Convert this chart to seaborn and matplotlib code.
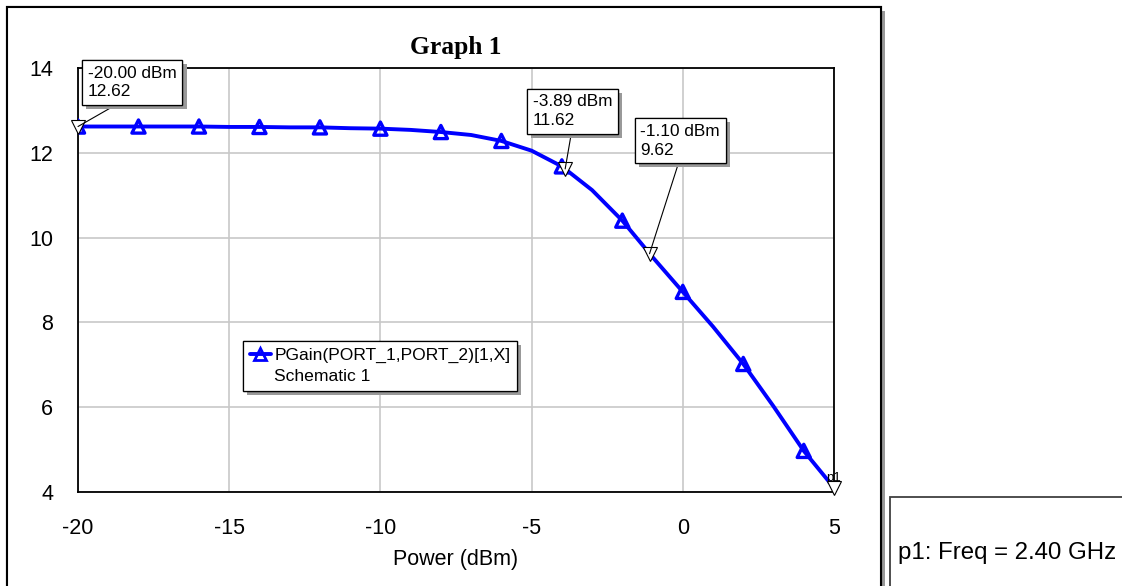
import matplotlib
matplotlib.use("Agg")
import matplotlib.pyplot as plt
import matplotlib.patheffects as pe
from matplotlib.patches import Rectangle
from matplotlib.lines import Line2D
import pandas as pd
import seaborn as sns

# sweep data (1 dBm steps), triangles drawn every 2 dBm
power_dbm = [-20, -19, -18, -17, -16, -15, -14, -13, -12, -11, -10, -9, -8,
             -7, -6, -5, -4, -3, -2, -1, 0, 1, 2, 3, 4, 5]
gain_db = [12.62, 12.62, 12.62, 12.62, 12.62, 12.61, 12.61, 12.60, 12.60, 12.58,
           12.57, 12.54, 12.49, 12.42, 12.28, 12.05, 11.68, 11.12, 10.40, 9.54,
           8.72, 7.90, 7.02, 6.02, 4.97, 4.10]

# readout markers
marker_power = [-20.00, -3.89, -1.10]
marker_gain = [12.62, 11.62, 9.62]
marker_labels = ["-20.00 dBm\n12.62", "-3.89 dBm\n11.62", "-1.10 dBm\n9.62"]
p1_power = 5
p1_gain = 4.10

x_ticks = [-20, -15, -10, -5, 0, 5]
y_ticks = [4, 6, 8, 10, 12, 14]

series_label = "PGain(PORT_1,PORT_2)[1,X]"
source_label = "Schematic 1"

df = pd.DataFrame({"power": power_dbm, "gain": gain_db})
df_tri = df[df["power"] % 2 == 0]
df_tri = df_tri[df_tri["power"] <= 4]

sns.set_theme(style="whitegrid")
plt.rcParams["font.family"] = ["Liberation Sans", "DejaVu Sans"]
plt.rcParams["text.color"] = "black"

W, H = 1122, 586
fig = plt.figure(figsize=(W / 100, H / 100), dpi=100)

shadow = [pe.withSimplePatchShadow(offset=(3, -3), shadow_rgbFace="0.6", alpha=1), pe.Normal()]

# outer panel frame and side panel
frame = Rectangle((7 / W, -0.02), (881 - 7) / W, 1.02 - 7 / H, transform=fig.transFigure,
                  fill=True, fc="white", ec="black", lw=1.5, zorder=-5)
frame.set_path_effects(shadow)
fig.patches.append(frame)
side = Rectangle((890 / W, -0.02), 0.3, 1.02 - 497 / H, transform=fig.transFigure,
                 fill=True, fc="white", ec="#404040", lw=1.3, zorder=-5)
fig.patches.append(side)
fig.text(898 / W, 1 - 553 / H, "p1: Freq = 2.40 GHz", fontsize=17.3, va="center", ha="left")

ax = fig.add_axes([78 / W, 1 - 492 / H, (834 - 78) / W, (492 - 68) / H])
ax.set_facecolor("white")

blue = "#0000ff"
sns.lineplot(data=df, x="power", y="gain", ax=ax, color=blue, lw=2.8, legend=False)
sns.scatterplot(data=df_tri, x="power", y="gain", ax=ax, marker="^", s=90,
                facecolor="none", edgecolor=blue, linewidth=2.4, legend=False, zorder=4)

# readout triangles
ax.plot(marker_power + [p1_power], marker_gain + [p1_gain], "v", ms=10,
        mfc="white", mec="black", mew=0.8, ls="none", clip_on=False, zorder=5)
ax.text(p1_power, p1_gain + 0.08, "p1", ha="center", va="bottom", fontsize=9.5)

box_pos = [(-19.67, 14.05), (-4.97, 13.38), (-1.40, 12.68)]
relx = [0.42, 0.5, 0.5]
for (px, py), lab, (tx, ty), rx in zip(zip(marker_power, marker_gain), marker_labels, box_pos, relx):
    ann = ax.annotate(lab, xy=(px, py), xytext=(tx, ty), ha="left", va="top",
                      fontsize=12.4, linespacing=1.3, annotation_clip=False,
                      bbox=dict(boxstyle="square,pad=0.33", fc="white", ec="black", lw=0.9),
                      arrowprops=dict(arrowstyle="-", color="black", lw=0.8,
                                      relpos=(rx, 0), shrinkA=0, shrinkB=0),
                      zorder=6)
    ann.get_bbox_patch().set_path_effects(shadow)

ax.set_xlim(-20, 5)
ax.set_ylim(4, 14)
ax.set_xticks(x_ticks)
ax.set_yticks(y_ticks)
ax.set_xticklabels([str(v) for v in x_ticks])
ax.grid(True, color="#c8c8c8", lw=1.2)
ax.tick_params(axis="both", length=0, labelsize=15.5, colors="black")
ax.tick_params(axis="y", pad=18)
ax.tick_params(axis="x", pad=19)
for s in ax.spines.values():
    s.set_visible(True)
    s.set_color("black")
    s.set_linewidth(1.3)

ax.set_xlabel("Power (dBm)", fontsize=15.5, labelpad=7, color="black")
ax.set_ylabel("")
ax.set_title("Graph 1", fontfamily="Liberation Serif", fontweight="bold",
             fontsize=18.4, pad=10)

handles = [Line2D([], [], color=blue, lw=2.8, marker="^", ms=8, mfc="none",
                  mec=blue, mew=2),
           Line2D([], [], color="none")]
leg = ax.legend(handles, [series_label, source_label], loc="upper left",
                bbox_to_anchor=((243 - 78) / 756, (492 - 341) / 424),
                borderaxespad=0, fontsize=12.6, handlelength=1.2, handletextpad=0.2,
                labelspacing=0.35, frameon=True, fancybox=False, borderpad=0.38,
                facecolor="white", framealpha=1)
leg.get_frame().set_edgecolor("black")
leg.get_frame().set_linewidth(0.9)
leg.get_frame().set_path_effects(shadow)

fig.savefig("out.png", dpi=100)
